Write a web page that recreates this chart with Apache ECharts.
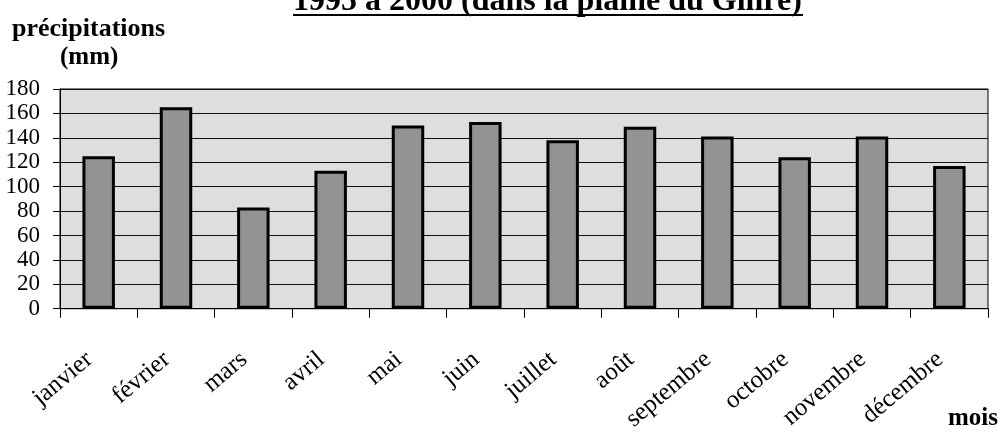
<!DOCTYPE html>
<html>
<head>
<meta charset="utf-8">
<script src="https://cdn.jsdelivr.net/npm/echarts@6/dist/echarts.min.js"></script>
<style>
  html, body { margin: 0; padding: 0; background: #fff; }
  #chart { width: 1003px; height: 434px; }
</style>
</head>
<body>
<div id="chart"></div>
<script>
// mois et précipitations moyennes
const months = ['janvier', 'février', 'mars', 'avril', 'mai', 'juin', 'juillet', 'août', 'septembre', 'octobre', 'novembre', 'décembre']
const rainfall = [125, 165, 83, 113, 150, 153, 138, 149, 141, 124, 141, 117]
const yTicks = [0, 180, 20] // min, max, interval

const titleText = '1995 à 2000 (dans la plaine du Gilire)'
const serif = '"Liberation Serif", "DejaVu Serif", serif'

const chart = echarts.init(document.getElementById('chart'), null, { renderer: 'canvas' })
chart.setOption({
  animation: false,
  backgroundColor: '#fff',
  title: {
    text: titleText,
    left: 293,
    top: -14,
    padding: 0,
    textStyle: { fontFamily: serif, fontWeight: 'bold', fontSize: 32, color: '#000' }
  },
  graphic: [
    { type: 'line', shape: { x1: 293, y1: 15, x2: 803, y2: 15 }, style: { stroke: '#000', lineWidth: 2 } },
    { type: 'text', left: 12, top: 16, style: { text: 'précipitations', font: 'bold 26px ' + serif, fill: '#000' } },
    { type: 'text', left: 60, top: 45, style: { text: '(mm)', font: 'bold 25px ' + serif, fill: '#000' } },
    { type: 'text', left: 948, top: 406, style: { text: 'mois', font: 'bold 25px ' + serif, fill: '#000' } }
  ],
  grid: {
    left: 60,
    right: 15,
    top: 89,
    bottom: 124,
    show: true,
    backgroundColor: '#dedede',
    borderColor: '#000',
    borderWidth: 1
  },
  xAxis: {
    type: 'category',
    data: months,
    boundaryGap: true,
    axisLine: { lineStyle: { color: '#000', width: 1 } },
    axisTick: { show: true, length: 9, lineStyle: { color: '#000' } },
    axisLabel: {
      rotate: 40,
      margin: 40,
      padding: [0, 12, 0, 0],
      interval: 0,
      color: '#000',
      fontFamily: serif,
      fontSize: 25
    },
    splitLine: { show: false }
  },
  yAxis: {
    type: 'value',
    min: yTicks[0],
    max: yTicks[1],
    interval: yTicks[2],
    axisLine: { show: true, lineStyle: { color: '#000', width: 1 } },
    axisTick: { show: true, length: 7, lineStyle: { color: '#000' } },
    axisLabel: { margin: 20, color: '#000', fontFamily: serif, fontSize: 23 },
    splitLine: { show: true, lineStyle: { color: '#111', width: 1 } }
  },
  series: [{
    type: 'bar',
    data: rainfall,
    barWidth: '42%',
    itemStyle: { color: '#939393', borderColor: '#000', borderWidth: 3 }
  }]
})
</script>
</body>
</html>
